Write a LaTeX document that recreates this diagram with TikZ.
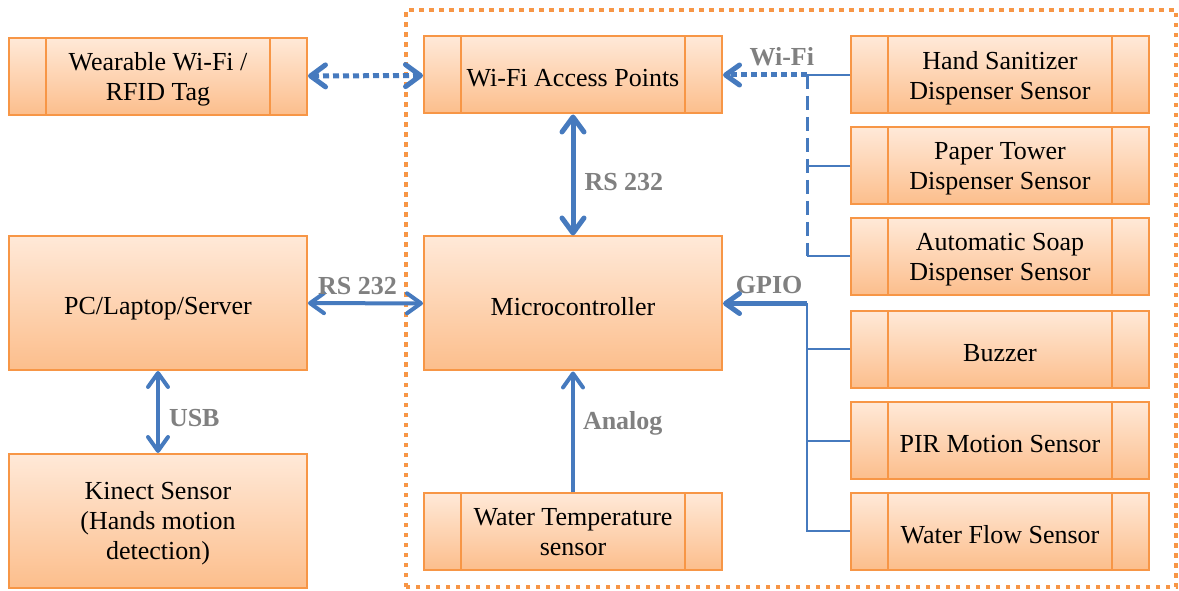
\documentclass[tikz,border=0pt]{standalone}
\usepackage{fontspec}
\setmainfont{Liberation Serif}
\usetikzlibrary{positioning,arrows.meta}

\definecolor{boxline}{RGB}{247,150,70}
\definecolor{boxtop}{RGB}{255,233,216}
\definecolor{boxbot}{RGB}{252,190,140}
\definecolor{linkblue}{RGB}{70,122,190}
\definecolor{lblgray}{RGB}{128,128,128}

\tikzset{
	box/.style={draw=boxline, line width=2pt, top color=boxtop, bottom color=boxbot,
		minimum width=298pt, align=center, inner sep=0pt, text depth=-3pt,
		font=\fontsize{26}{30}\selectfont,
		execute at begin node={\rule{0pt}{24pt}}},
	procbox/.style={box, minimum height=77pt, path picture={
		\draw[boxline, line width=2pt] ([xshift=37pt]path picture bounding box.north west) -- ([xshift=37pt]path picture bounding box.south west);
		\draw[boxline, line width=2pt] ([xshift=-37pt]path picture bounding box.north east) -- ([xshift=-37pt]path picture bounding box.south east);
	}},
	bigbox/.style={box, minimum height=134pt},
	link/.style={draw=linkblue, line width=4pt, arrows={-Straight Barb[round, length=14pt, width=20pt]}},
	biglink/.style={link, line width=5pt},
	wire/.style={draw=linkblue, line width=2pt},
	lbl/.style={text=lblgray, font=\fontsize{26}{30}\selectfont\bfseries, inner sep=1pt}
}

\begin{document}
\begin{tikzpicture}[x=1pt, y=1pt]
	\useasboundingbox (0, 0) rectangle (1179, 590);

	% outer dotted frame
	\draw[boxline, line width=3.5pt, dash pattern=on 4.5pt off 5.5pt] (406, 3) rectangle (1176, 580);

	% left column
	\node[procbox] (wear) at (158, 513.5) {Wearable Wi-Fi /\\RFID Tag};
	\node[bigbox] (pc) at (158, 287) {PC/Laptop/Server};
	\node[bigbox] (kin) at (158, 69) {Kinect Sensor\\(Hands motion\\detection)};

	% middle column
	\node[procbox] (ap) at (573, 515) {Wi-Fi Access Points};
	\node[bigbox] (mcu) at (573, 286.5) {Microcontroller};
	\node[procbox] (temp) at (573, 58.5) {Water Temperature\\sensor};

	% right column
	\node[procbox] (hand) at (1000, 515) {Hand Sanitizer\\Dispenser Sensor};
	\node[procbox] (paper) at (1000, 424) {Paper Tower\\Dispenser Sensor};
	\node[procbox] (soap) at (1000, 333.5) {Automatic Soap\\Dispenser Sensor};
	\node[procbox] (buzz) at (1000, 240.5) {Buzzer};
	\node[procbox] (pir) at (1000, 149.5) {PIR Motion Sensor};
	\node[procbox] (flow) at (1000, 59) {Water Flow Sensor};

	\coordinate (wbus) at (807, 515);
	\coordinate (gbus) at (807, 286.5);

	% links
	\draw[biglink, {Straight Barb[round, length=15pt, width=22pt]}-{Straight Barb[round, length=15pt, width=22pt]}, dash pattern=on 6pt off 4pt] (wear) -- (ap);
	\draw[biglink, {Straight Barb[round, length=15pt, width=22pt]}-{Straight Barb[round, length=15pt, width=22pt]}] (ap) -- node[lbl, right=8pt, pos=0.56] (l1) {RS 232} (mcu);
	\draw[link, {Straight Barb[round, length=14pt, width=20pt]}-{Straight Barb[round, length=14pt, width=20pt]}] (pc) -- node[lbl, above=5pt, pos=0.43] (l2) {RS 232} (mcu);
	\draw[link, {Straight Barb[round, length=14pt, width=20pt]}-{Straight Barb[round, length=14pt, width=20pt]}] (pc) -- node[lbl, right=8pt, pos=0.57] (l3) {USB} (kin);
	\draw[link] (temp) -- node[lbl, right=7pt, pos=0.57] (l4) {Analog} (mcu);

	% Wi-Fi bus
	\draw[biglink, dash pattern=on 6pt off 4pt] (wbus) -- node[lbl, above=6pt, pos=0.3] (l5) {Wi-Fi} (ap.east);
	\draw[wire] (hand.west) -- (wbus);
	\draw[wire, line width=3pt, dash pattern=on 14pt off 7pt] (wbus) -- (wbus |- soap.west);
	\draw[wire] (paper.west) -- (paper.west -| wbus);
	\draw[wire] (soap.west) -- (soap.west -| wbus);

	% GPIO bus
	\draw[biglink] (gbus) -- node[lbl, above=6pt, pos=0.45] (l6) {GPIO} (mcu.east);
	\draw[wire] (gbus) -- (gbus |- flow.west) -- (flow.west);
	\draw[wire] (buzz.west) -- (buzz.west -| gbus);
	\draw[wire] (pir.west) -- (pir.west -| gbus);
\end{tikzpicture}
\end{document}
